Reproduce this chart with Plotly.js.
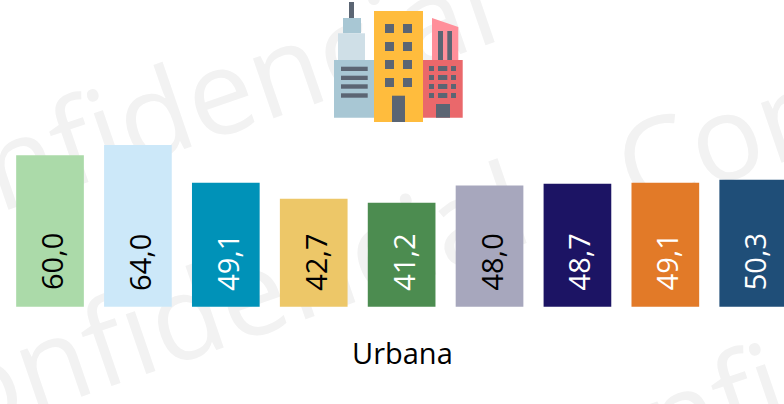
<!DOCTYPE html>
<html>
<head>
<meta charset="utf-8">
<script src="https://cdn.plot.ly/plotly-3.0.1.min.js"></script>
<style>
html,body{margin:0;padding:0;background:#fff;overflow:hidden}
#wm,#chart{position:absolute;left:0;top:0;width:784px;height:404px}
</style>
</head>
<body>
<div id="wm"></div>
<div id="chart"></div>
<script>
const categories = ["A","B","C","D","E","F","G","H","I"];
const values = [60.0, 64.0, 49.1, 42.7, 41.2, 48.0, 48.7, 49.1, 50.3];
const labels = ["60,0","64,0","49,1","42,7","41,2","48,0","48,7","49,1","50,3"];
const barColors = ["#abdaa9","#cce8f9","#0092b8","#edc768","#4c8c50","#a7a7bd","#1c1464","#e27a28","#1f4e78"];
const labelColors = ["#000","#000","#fff","#000","#fff","#000","#fff","#fff","#fff"];
const groupName = "Urbana";
const watermarkText = "Confidencial";
const watermarkCentres = [[168,106],[200,307],[941,59],[830,360]];

const W = 784, H = 404;
const FONT = "'Open Sans', sans-serif";

Plotly.newPlot("wm", [], {
  width: W, height: H, margin: {l:0,r:0,t:0,b:0},
  paper_bgcolor: "#fff", plot_bgcolor: "#fff",
  xaxis: {visible:false}, yaxis: {visible:false},
  annotations: watermarkCentres.map(c => ({
    xref:"paper", yref:"paper", x:c[0]/W, y:1-c[1]/H,
    xanchor:"center", yanchor:"middle", showarrow:false,
    text:watermarkText, textangle:-19,
    font:{family:FONT, size:118, color:"#f2f2f2"}
  }))
}, {staticPlot:true});

// icon helpers (pixel -> paper)
const px = x => x/W, py = y => 1-y/H;
const rect = (x0,y0,x1,y1,c) => ({type:"rect",xref:"paper",yref:"paper",x0:px(x0),x1:px(x1),y0:py(y0),y1:py(y1),fillcolor:c,line:{width:0},layer:"above"});
const poly = (pts,c) => ({type:"path",xref:"paper",yref:"paper",
  path:"M"+pts.map(p=>px(p[0])+","+py(p[1])).join("L")+"Z",fillcolor:c,line:{width:0},layer:"above"});
const slate="#5b6573", blue="#a8c7d4", pale="#cfdfe7", yellow="#ffbc3d", pink="#ff8f9a", red="#ea686b";
const shapes=[
  rect(349,2,354,18,slate), rect(343,18,361,33.3,blue), rect(338,33.3,365,60,pale), rect(334,60,374,117.7,blue),
  poly([[432,18],[458.3,27],[458.3,60],[432,60]],pink),
  rect(438,31,443,60,slate), rect(447.3,31,452,60,slate),
  rect(423,60,462.7,117.7,red),
  rect(374,11,423,122,yellow),
  rect(392,95.7,405,122,slate), rect(436,104,450,117.7,slate)
];
[[66.7,71],[75.7,80],[84.3,88.7],[93.3,97.7]].forEach(r=>shapes.push(rect(341,r[0],367.7,r[1],slate)));
[[24,33],[42,51],[60,69],[78,87]].forEach(r=>{shapes.push(rect(385,r[0],394,r[1],slate));shapes.push(rect(403,r[0],412,r[1],slate));});
[[66,71],[75,80],[84,89],[93,98]].forEach(r=>{[[429,434],[438,447.3],[451,456]].forEach(c=>shapes.push(rect(c[0],r[0],c[1],r[1],slate)));});

const annotations = categories.map((c,i)=>({
  x:c, y:17.7, xref:"x", yref:"y", xshift:1, showarrow:false,
  text:labels[i], textangle:-90, xanchor:"center", yanchor:"middle",
  font:{family:FONT,size:29,color:labelColors[i]}
}));
annotations.push({xref:"paper",yref:"paper",x:402/W,y:1-352.5/H,xanchor:"center",yanchor:"middle",
  showarrow:false,text:groupName,font:{family:FONT,size:29,color:"#000"}});

Plotly.newPlot("chart",[{
  type:"bar", x:categories, y:values, width:0.77,
  marker:{color:barColors,line:{width:0}}, hoverinfo:"skip"
}],{
  width:W,height:H,margin:{l:0,r:0,t:0,b:0},
  paper_bgcolor:"rgba(0,0,0,0)",plot_bgcolor:"rgba(0,0,0,0)",
  showlegend:false,
  xaxis:{type:"category",range:[-0.569,8.35],visible:false,fixedrange:true},
  yaxis:{range:[-38.5,121.4],visible:false,fixedrange:true},
  shapes:shapes,annotations:annotations
},{staticPlot:true});
</script>
</body>
</html>
